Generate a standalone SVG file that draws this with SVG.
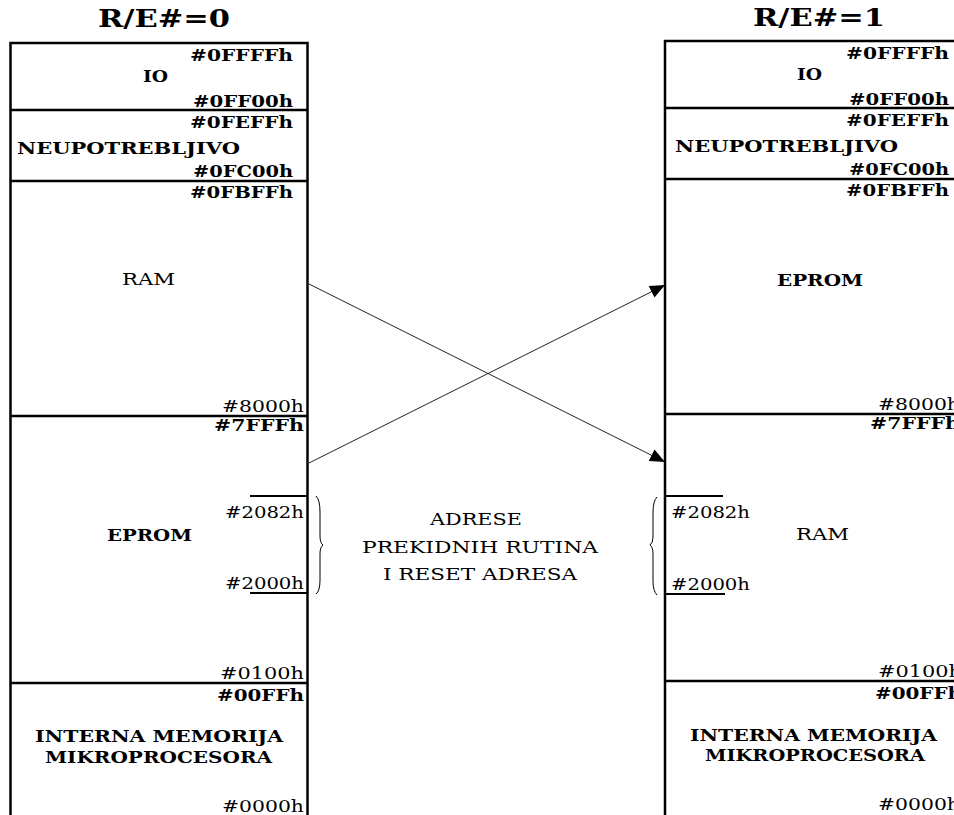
<svg xmlns="http://www.w3.org/2000/svg" width="954" height="815" viewBox="0 0 954 815">
<style>
text{font-family:"DejaVu Serif","Liberation Serif",serif;font-size:17.5px;fill:#000}
.b{font-weight:bold}
.e{text-anchor:end}
.m{text-anchor:middle}
.t{font-size:25px;font-weight:bold}
.box{fill:none;stroke:#000;stroke-width:2.5}
.div{stroke:#000;stroke-width:2.5}
.tick{stroke:#000;stroke-width:2}
.brace{fill:none;stroke:#000;stroke-width:1}
.conn{stroke:#222;stroke-width:1;fill:none}
</style>
<defs>
<marker id="arr" markerUnits="userSpaceOnUse" markerWidth="15" markerHeight="13" refX="15" refY="6.5" orient="auto">
<path d="M0,0 L15,6.5 L0,13 z" fill="#000"/>
</marker>
</defs>
<rect width="954" height="815" fill="#fff"/>

<g id="title-left"><text class="t" x="98" y="27" textLength="132" lengthAdjust="spacingAndGlyphs">R/E#=0</text></g>
<g id="title-right"><text class="t" x="753" y="26" textLength="132" lengthAdjust="spacingAndGlyphs">R/E#=1</text></g>

<g id="left-map">
<path class="box" d="M10.5,816 V43 H307.5 V816"/>
<g id="left-io">
<text class="b e" x="293" y="61" textLength="103" lengthAdjust="spacingAndGlyphs">#0FFFFh</text>
<text class="b" x="143" y="82" textLength="25" lengthAdjust="spacingAndGlyphs">IO</text>
<text class="b e" x="293" y="107" textLength="100" lengthAdjust="spacingAndGlyphs">#0FF00h</text>
</g>
<line class="div" x1="10" y1="110" x2="308" y2="110"/>
<g id="left-unused">
<text class="b e" x="293" y="128" textLength="103" lengthAdjust="spacingAndGlyphs">#0FEFFh</text>
<text class="b" x="17" y="154" textLength="223" lengthAdjust="spacingAndGlyphs">NEUPOTREBLJIVO</text>
<text class="b e" x="293" y="177" textLength="100" lengthAdjust="spacingAndGlyphs">#0FC00h</text>
</g>
<line class="div" x1="10" y1="181" x2="308" y2="181"/>
<g id="left-ram">
<text class="b e" x="293" y="198" textLength="103" lengthAdjust="spacingAndGlyphs">#0FBFFh</text>
<text x="122" y="285" textLength="53" lengthAdjust="spacingAndGlyphs">RAM</text>
<text class="e" x="304" y="412" textLength="82" lengthAdjust="spacingAndGlyphs">#8000h</text>
</g>
<line class="div" x1="10" y1="416" x2="308" y2="416"/>
<g id="left-eprom">
<text class="b e" x="304" y="431" textLength="90" lengthAdjust="spacingAndGlyphs">#7FFFh</text>
<line class="tick" x1="250" y1="496" x2="308" y2="496"/>
<text class="e" x="304" y="518" textLength="79" lengthAdjust="spacingAndGlyphs">#2082h</text>
<text class="b" x="107" y="541" textLength="85" lengthAdjust="spacingAndGlyphs">EPROM</text>
<text class="e" x="304" y="589" textLength="79" lengthAdjust="spacingAndGlyphs">#2000h</text>
<line class="tick" x1="250" y1="593" x2="308" y2="593"/>
<text class="e" x="304" y="679" textLength="84" lengthAdjust="spacingAndGlyphs">#0100h</text>
</g>
<line class="div" x1="10" y1="683" x2="308" y2="683"/>
<g id="left-internal">
<text class="b e" x="304" y="701" textLength="87" lengthAdjust="spacingAndGlyphs">#00FFh</text>
<text class="b" x="35" y="742" textLength="248" lengthAdjust="spacingAndGlyphs">INTERNA MEMORIJA</text>
<text class="b" x="45" y="763" textLength="227" lengthAdjust="spacingAndGlyphs">MIKROPROCESORA</text>
<text class="e" x="304" y="812" textLength="82" lengthAdjust="spacingAndGlyphs">#0000h</text>
</g>
</g>

<g id="right-map">
<path class="box" d="M665,816 V41 H970"/>
<g id="right-io">
<text class="b e" x="949" y="59" textLength="103" lengthAdjust="spacingAndGlyphs">#0FFFFh</text>
<text class="b" x="797" y="80" textLength="25" lengthAdjust="spacingAndGlyphs">IO</text>
<text class="b e" x="949" y="105" textLength="100" lengthAdjust="spacingAndGlyphs">#0FF00h</text>
</g>
<line class="div" x1="665" y1="108" x2="970" y2="108"/>
<g id="right-unused">
<text class="b e" x="949" y="126" textLength="103" lengthAdjust="spacingAndGlyphs">#0FEFFh</text>
<text class="b" x="675" y="152" textLength="223" lengthAdjust="spacingAndGlyphs">NEUPOTREBLJIVO</text>
<text class="b e" x="949" y="175" textLength="100" lengthAdjust="spacingAndGlyphs">#0FC00h</text>
</g>
<line class="div" x1="665" y1="179" x2="970" y2="179"/>
<g id="right-eprom">
<text class="b e" x="949" y="196" textLength="103" lengthAdjust="spacingAndGlyphs">#0FBFFh</text>
<text class="b" x="777" y="286" textLength="86" lengthAdjust="spacingAndGlyphs">EPROM</text>
<text x="878" y="410" textLength="82" lengthAdjust="spacingAndGlyphs">#8000h</text>
</g>
<line class="div" x1="665" y1="414" x2="970" y2="414"/>
<g id="right-ram">
<text class="b" x="870" y="429" textLength="90" lengthAdjust="spacingAndGlyphs">#7FFFh</text>
<line class="tick" x1="665" y1="496" x2="723" y2="496"/>
<text x="671" y="518" textLength="79" lengthAdjust="spacingAndGlyphs">#2082h</text>
<text x="796" y="540" textLength="53" lengthAdjust="spacingAndGlyphs">RAM</text>
<text x="671" y="590" textLength="79" lengthAdjust="spacingAndGlyphs">#2000h</text>
<line class="tick" x1="665" y1="594" x2="725" y2="594"/>
<text x="878" y="677" textLength="84" lengthAdjust="spacingAndGlyphs">#0100h</text>
</g>
<line class="div" x1="665" y1="681" x2="970" y2="681"/>
<g id="right-internal">
<text class="b" x="875" y="699" textLength="87" lengthAdjust="spacingAndGlyphs">#00FFh</text>
<text class="b" x="690" y="741" textLength="247" lengthAdjust="spacingAndGlyphs">INTERNA MEMORIJA</text>
<text class="b" x="705" y="761" textLength="220" lengthAdjust="spacingAndGlyphs">MIKROPROCESORA</text>
<text x="878" y="810" textLength="82" lengthAdjust="spacingAndGlyphs">#0000h</text>
</g>
</g>

<g id="interrupt-note">
<path class="brace" d="M316,496 Q320,500 320,512 V536 Q320,543 323,545 Q320,547 320,554 V580 Q320,591 316,594"/>
<path class="brace" d="M657,497 Q653,501 653,513 V537 Q653,543 650,545 Q653,547 653,554 V581 Q653,591 657,595"/>
<text class="m" x="476" y="525" textLength="92" lengthAdjust="spacingAndGlyphs">ADRESE</text>
<text class="m" x="480" y="553" textLength="236" lengthAdjust="spacingAndGlyphs">PREKIDNIH RUTINA</text>
<text class="m" x="480" y="580" textLength="194" lengthAdjust="spacingAndGlyphs">I RESET ADRESA</text>
</g>

<g id="connectors">
<line class="conn" x1="309" y1="284" x2="665" y2="462" marker-end="url(#arr)"/>
<line class="conn" x1="309" y1="463" x2="665" y2="285" marker-end="url(#arr)"/>
</g>
</svg>
